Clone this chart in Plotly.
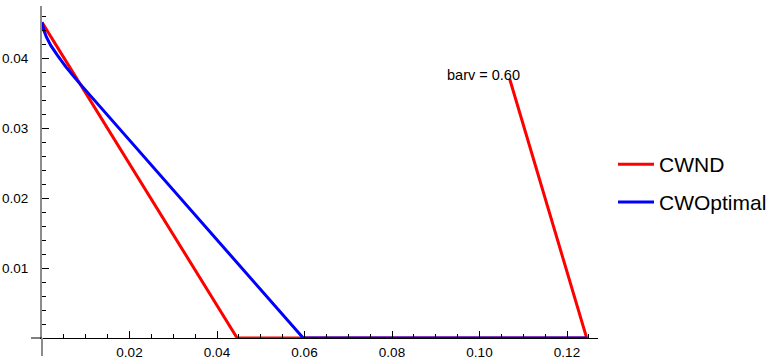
import plotly.graph_objects as go

# ---- data ----
cwnd_x = [0.0, 0.0446, 0.1245, 0.1069]
cwnd_y = [0.0451, 0.0, 0.0, 0.0370]

opt_x = [0.0, 0.0004, 0.0010, 0.0020, 0.0035, 0.0055, 0.0080, 0.0597, 0.1245]
opt_y = [0.0451, 0.0440, 0.0430, 0.0418, 0.0404, 0.0387, 0.0368, 0.0, 0.0]

series_names = ["CWND", "CWOptimal"]
label_text = "barv = 0.60"

x_major = [0.02, 0.04, 0.06, 0.08, 0.10, 0.12]
x_major_text = ["0.02", "0.04", "0.06", "0.08", "0.10", "0.12"]
x_minor = [i * 0.005 for i in range(1, 26)]
y_major = [0.01, 0.02, 0.03, 0.04]
y_major_text = ["0.01", "0.02", "0.03", "0.04"]
y_minor = [i * 0.002 for i in range(1, 24)]

FONT = "Liberation Sans, Arial, sans-serif"

fig = go.Figure()
fig.add_trace(go.Scatter(x=cwnd_x, y=cwnd_y, mode="lines", name=series_names[0],
                         line=dict(color="#ff0000", width=3), cliponaxis=False,
                         legendgroup="a"))
fig.add_trace(go.Scatter(x=opt_x, y=opt_y, mode="lines", name=series_names[1],
                         line=dict(color="#0000ff", width=3), cliponaxis=False,
                         legendgroup="b"))

fig.add_annotation(x=cwnd_x[3], y=cwnd_y[3], text=label_text, showarrow=False,
                   xanchor="center", yanchor="middle", xshift=-26, yshift=4,
                   font=dict(family=FONT, size=14.5, color="black"))

# axis extensions past origin (Mathematica-style crossing axes)
fig.add_shape(type="line", xref="paper", yref="paper", xsizemode="pixel", xanchor=0,
              x0=-11, x1=0, y0=0, y1=0, line=dict(color="black", width=1))
fig.add_shape(type="line", xref="paper", yref="paper", ysizemode="pixel", yanchor=0,
              x0=0, x1=0, y0=-18, y1=0, line=dict(color="#8c8c8c", width=2))

fig.update_xaxes(range=[0, 556 / 4375], showgrid=False, zeroline=False,
                 showline=True, linecolor="black", linewidth=1, automargin=False,
                 tickmode="array", tickvals=x_major, ticktext=x_major_text,
                 ticks="inside", ticklen=7, tickcolor="black", tickwidth=1,
                 tickfont=dict(family=FONT, size=13.5, color="black"),
                 minor=dict(tickmode="array", tickvals=x_minor, ticks="inside",
                            ticklen=4, tickcolor="black", tickwidth=1),
                 ticklabelstandoff=2)
fig.update_yaxes(range=[0, 332 / 7000], showgrid=False, zeroline=False,
                 showline=True, linecolor="#8c8c8c", linewidth=2, automargin=False,
                 tickmode="array", tickvals=y_major, ticktext=y_major_text,
                 ticks="inside", ticklen=7, tickcolor="black", tickwidth=1,
                 tickfont=dict(family=FONT, size=13.5, color="black"),
                 minor=dict(tickmode="array", tickvals=y_minor, ticks="inside",
                            ticklen=4, tickcolor="black", tickwidth=1),
                 ticklabelstandoff=9)

fig.update_layout(
    width=772, height=360,
    margin=dict(l=42, r=174, t=6, b=22, autoexpand=False),
    paper_bgcolor="white", plot_bgcolor="white",
    showlegend=True,
    legend=dict(x=1.027, y=0.584, xanchor="left", yanchor="top",
                font=dict(family=FONT, size=21, color="black"),
                itemwidth=36, tracegroupgap=7.5, bgcolor="rgba(0,0,0,0)"),
)

fig.write_html("out.html")
